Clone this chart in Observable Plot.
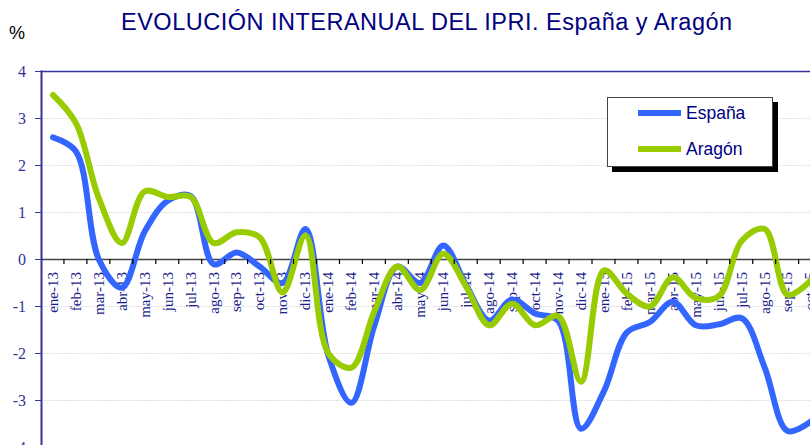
<!DOCTYPE html>
<html>
<head>
<meta charset="utf-8">
<script src="https://cdn.jsdelivr.net/npm/d3@7"></script>
<script src="https://cdn.jsdelivr.net/npm/@observablehq/plot@0.6"></script>
<style>
  html, body { margin: 0; padding: 0; background: #fff; }
  body { width: 810px; height: 445px; overflow: hidden; position: relative; }
  #wrap { position: relative; width: 810px; height: 445px; overflow: hidden; }
  #title { position: absolute; left: 121px; top: 11px; font: 23.5px "Liberation Sans", Arial, sans-serif; line-height: 23px; letter-spacing: 0.5px; color: #000080; white-space: nowrap; }
  #pct { position: absolute; left: 9px; top: 24px; font: 18px "Liberation Sans", Arial, sans-serif; line-height: 18px; color: #000; }
  #chart { position: absolute; left: 0; top: 0; width: 830px; }
  #chart svg { max-width: none !important; }
  #legend { position: absolute; left: 607px; top: 97px; width: 164px; height: 68px; border: 1px solid #444; background: #fff; box-shadow: 5px 5px 0 #000; }
  .lg-line { position: absolute; left: 30px; width: 43px; height: 6px; }
  .lg-text { position: absolute; left: 78px; font: 17.5px "Liberation Sans", Arial, sans-serif; line-height: 17.5px; color: #000080; white-space: nowrap; }
</style>
</head>
<body>
<div id="wrap">
  <div id="chart"></div>
  <div id="pct">%</div>
  <div id="title">EVOLUCIÓN INTERANUAL DEL IPRI. España y Aragón</div>
  <div id="legend"></div>
</div>
<script>
const months = ["ene-13","feb-13","mar-13","abr-13","may-13","jun-13","jul-13","ago-13","sep-13","oct-13","nov-13","dic-13",
                "ene-14","feb-14","mar-14","abr-14","may-14","jun-14","jul-14","ago-14","sep-14","oct-14","nov-14","dic-14",
                "ene-15","feb-15","mar-15","abr-15","may-15","jun-15","jul-15","ago-15","sep-15","oct-15"];
const espana = [2.6, 2.3, 0.0, -0.6, 0.6, 1.25, 1.35, -0.1, 0.15, -0.15, -0.5, 0.65,
                -2.05, -3.05, -1.4, -0.15, -0.5, 0.3, -0.55, -1.3, -0.85, -1.15, -1.3, -3.6,
                -2.8, -1.55, -1.33, -0.9, -1.4, -1.38, -1.25, -2.3, -3.65, -3.45];
const aragon = [3.5, 2.9, 1.3, 0.35, 1.45, 1.33, 1.33, 0.35, 0.58, 0.47, -0.7, 0.51,
                -2.0, -2.3, -1.1, -0.15, -0.65, 0.12, -0.58, -1.4, -0.94, -1.4, -1.2, -2.6,
                -0.23, -0.73, -1.0, -0.38, -0.82, -0.78, 0.4, 0.65, -0.75, -0.45];
const seriesNames = ["España", "Aragón"];
const seriesColors = ["#3366ff", "#99cc00"];
const yTicks = [-4, -3, -2, -1, 0, 1, 2, 3, 4];
const gridTicks = [-3, -2, -1, 1, 2, 3];

const data = [];
months.forEach((m, i) => {
  data.push({m, v: espana[i], s: seriesNames[0]});
  data.push({m, v: aragon[i], s: seriesNames[1]});
});

const navy = "#333399";
const serif = "'Liberation Serif', 'Times New Roman', 'DejaVu Serif', serif";
const plot = Plot.plot({
  width: 830,
  height: 452,
  marginTop: 71,
  marginBottom: 5,
  marginLeft: 41,
  marginRight: 8.4,
  style: {fontFamily: serif, maxWidth: "none", overflow: "visible"},
  x: {type: "point", domain: months, padding: 0.5, axis: null},
  y: {domain: [-4, 4], axis: null},
  color: {domain: seriesNames, range: seriesColors},
  marks: [
    Plot.ruleY(gridTicks, {stroke: "#dcdcdc", strokeDasharray: "1.5,1", strokeWidth: 1}),
    Plot.ruleY([0], {stroke: "#444", strokeWidth: 1.3}),
    Plot.frame({anchor: "top", stroke: navy, strokeWidth: 1.5}),
    Plot.frame({anchor: "left", stroke: navy, strokeWidth: 2}),
    Plot.axisY(yTicks, {label: null, tickSize: 6, tickPadding: 9.5, tickFormat: d => String(d), fontSize: 16,
      fontFamily: serif, color: navy}),
    Plot.text(months, {x: d => d, y: () => 0, text: d => d, rotate: -90, textAnchor: "end", dy: 12.5,
      fontSize: 15, fontFamily: serif, fill: "#1a1a8c", letterSpacing: 1.3}),
    Plot.line(data.filter(d => d.s === seriesNames[0]), {x: "m", y: "v", stroke: "s", strokeWidth: 6, curve: "catmull-rom"}),
    Plot.line(data.filter(d => d.s === seriesNames[1]), {x: "m", y: "v", stroke: "s", strokeWidth: 6, curve: "catmull-rom"})
  ]
});

// category boundary ticks on the zero line, placed with the plot's own scales
const xs = plot.scale("x"), ys = plot.scale("y");
const step = xs.apply(months[1]) - xs.apply(months[0]);
const y0 = ys.apply(0);
const g = d3.select(plot).append("g").attr("stroke", "#000").attr("stroke-width", 1.2);
months.forEach((m, i) => {
  if (i === 0) return;
  const x = xs.apply(m) - step / 2;
  g.append("line").attr("x1", x).attr("x2", x).attr("y1", y0).attr("y2", y0 + 5);
});
plot.style.maxWidth = "none";
document.getElementById("chart").appendChild(plot);

// legend
const lg = document.getElementById("legend");
seriesNames.forEach((name, i) => {
  const line = document.createElement("div");
  line.className = "lg-line";
  line.style.top = (12 + i * 35.7) + "px";
  line.style.background = seriesColors[i];
  lg.appendChild(line);
  const t = document.createElement("div");
  t.className = "lg-text";
  t.style.top = (7 + i * 35.7) + "px";
  t.textContent = name;
  lg.appendChild(t);
});
</script>
</body>
</html>
